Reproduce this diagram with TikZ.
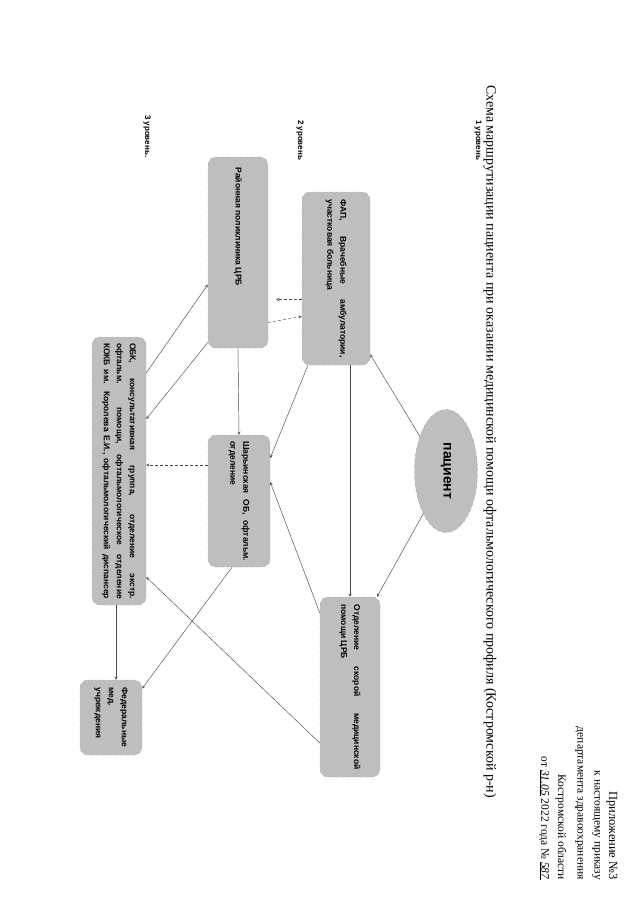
\documentclass[tikz,border=0pt]{standalone}
\usepackage{fontspec}
\setmainfont{Liberation Serif}
\setsansfont{Liberation Sans}
\usetikzlibrary{shapes.geometric}
\definecolor{RtFill}{HTML}{BEBEBE}
\definecolor{RtEdge}{HTML}{A6A6A6}
\definecolor{RtLine}{HTML}{4A4A4A}
\newcommand{\boxfont}{\sffamily\bfseries\fontsize{8.5}{13}\selectfont}
\newcommand{\boxtxt}[2]{\rotatebox{-90}{\parbox{#1}{\boxfont #2}}}
\begin{document}
\begin{tikzpicture}[x=1pt,y=-1pt,
  routebox/.style={draw=RtEdge,dashed,fill=RtFill,rounded corners=8pt,inner sep=0pt},
  link/.style={RtLine,line width=0.45pt,-stealth},
  dimlink/.style={link,densely dashed},
  vlabel/.style={rotate=-90,inner sep=0pt},
  level/.style={vlabel,anchor=west,font=\sffamily\bfseries\fontsize{8}{9}\selectfont}]
\path[use as bounding box] (0,0) rectangle (640,905);
% header
\node[vlabel,anchor=east,font=\fontsize{12.5}{14}\selectfont] (apx) at (612,880) {Приложение №3};
\node[vlabel,anchor=east,font=\fontsize{11.5}{14}\selectfont] (apx2) at (596,880) {к настоящему приказу};
\node[vlabel,anchor=east,font=\fontsize{11.5}{14}\selectfont] (apx3) at (579,880) {департамента здравоохранения};
\node[vlabel,anchor=east,font=\fontsize{11.5}{14}\selectfont] (apx4) at (561,880) {Костромской области};
\node[vlabel,anchor=east,font=\fontsize{11.5}{14}\selectfont] (apx5) at (544,880) {от \underline{\textit{31.05}} 2022 года № \underline{\textit{587}}};
\node[vlabel,anchor=west,font=\fontsize{14}{16}\selectfont] (title) at (490,85) {Схема маршрутизации пациента при оказании медицинской помощи офтальмологического профиля (Костромской р-н)};
% levels
\node[level] (lv1) at (478,120) {1 уровень};
\node[level] (lv2) at (300,120) {2 уровень};
\node[level] (lv3) at (147,115) {3 уровень.};
% boxes
\node[routebox,ellipse,minimum width=63pt,minimum height=123pt] (pat) at (446,471)
  {\rotatebox{-90}{\sffamily\bfseries\fontsize{14}{16}\selectfont пациент}};
\node[routebox,minimum width=68pt,minimum height=173pt] (fap) at (336,278.5)
  {\boxtxt{158pt}{ФАП, Врачебные амбулатории,\linebreak участковая больница}};
\node[routebox,minimum width=60pt,minimum height=180pt] (smp) at (350,687)
  {\boxtxt{165pt}{Отделение скорой медицинской\linebreak помощи ЦРБ}};
\node[routebox,minimum width=60pt,minimum height=191pt] (pol) at (238,252.5)
  {\boxtxt{170pt}{Районная поликлиника ЦРБ}};
\node[routebox,minimum width=62pt,minimum height=132pt] (shar) at (239,501)
  {\boxtxt{120pt}{Шарьинская ОБ, офтальм.\linebreak отделение}};
\node[routebox,minimum width=54pt,minimum height=268pt] (obl) at (119,471)
  {\boxtxt{256pt}{\parfillskip=0pt ОБК, консультативная группа, отделение экстр.\linebreak офтальм. помощи, офтальмологическое отделение\linebreak КОКБ им. Королева Е.И., офтальмологический диспансер}};
\node[routebox,minimum width=62pt,minimum height=75pt] (fed) at (111,717.5)
  {\boxtxt{60pt}{\raggedright Федеральные мед. учреждения}};
% routes
\draw[link] (pat.127) -- ([yshift=-76pt]fap.east);
\draw[link] (pat.242) -- ([xshift=27pt]smp.north);
\draw[link] ([xshift=14pt]fap.south) -- (smp.north);
\draw[link] ([xshift=-28pt]fap.south) -- ([yshift=43pt]shar.east);
\draw[dimlink,shorten >=8pt] ([yshift=-21pt]fap.west) -- ([yshift=-47pt]pol.east);
\draw[dimlink] ([yshift=-70pt]pol.east) -- ([yshift=-38pt]fap.west);
\draw[link] (pol.south) -- (shar.north);
\draw[link] ([yshift=74pt]smp.west) -- ([yshift=19pt]shar.east);
\draw[link] ([yshift=-56pt]smp.west) -- ([yshift=-106pt]obl.east);
\draw[link] ([yshift=98pt]obl.east) -- ([yshift=-32pt]pol.west);
\draw[link] ([yshift=-90pt]pol.west) -- ([yshift=52pt]obl.east);
\draw[dimlink] ([yshift=36pt]shar.west) -- ([yshift=6pt]obl.east);
\draw[link] ([xshift=-7pt]shar.south) -- ([yshift=29pt]fed.east);
\draw[link] ([xshift=-3pt]obl.south) -- ([xshift=5pt]fed.north);
\end{tikzpicture}
\end{document}
